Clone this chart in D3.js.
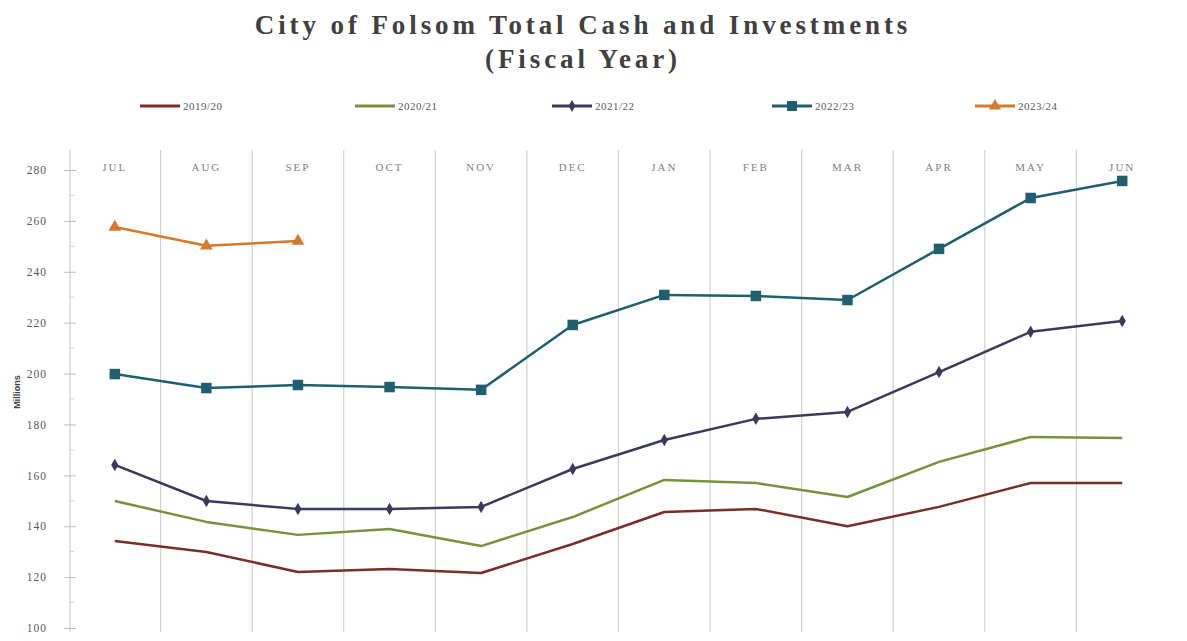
<!DOCTYPE html>
<html><head><meta charset="utf-8">
<script src="https://cdn.jsdelivr.net/npm/d3@7"></script>
<style>body{margin:0;background:#fff;} svg{display:block;}</style>
</head><body>
<script>
const months = ["JUL","AUG","SEP","OCT","NOV","DEC","JAN","FEB","MAR","APR","MAY","JUN"];
const seriesNames = ["2019/20","2020/21","2021/22","2022/23","2023/24"];
const fy2019 = [134.2,129.9,122.0,123.2,121.6,133.0,145.6,146.8,140.0,147.6,157.0,157.0];
const fy2020 = [149.9,141.7,136.6,138.9,132.2,143.6,158.2,157.0,151.5,165.3,175.1,174.7];
const fy2021 = [164.1,149.9,146.8,146.8,147.6,162.5,173.9,182.2,184.9,200.6,216.4,220.7];
const fy2022 = [199.8,194.3,195.5,194.7,193.6,219.1,230.9,230.5,228.9,249.0,269.0,275.7];
const fy2023 = [257.6,250.2,252.1];
const yTicks = [100,120,140,160,180,200,220,240,260,280];
const colors = ["#7a2e2a","#76923c","#3a3a5c","#1f5f6e","#d47a2c"];
const markers = ["none","none","diamond","square","triangle"];
const allSeries = [fy2019,fy2020,fy2021,fy2022,fy2023];

const W=1187,H=641;
const svg=d3.select("body").append("svg").attr("width",W).attr("height",H);
const x=d3.scaleBand().domain(months).range([69,1168]);
const y=d3.scaleLinear().domain([100,280]).range([628,170]);

// title
svg.append("text").attr("x",583).attr("y",34).attr("text-anchor","middle")
  .attr("font-family","Liberation Serif").attr("font-weight","bold").attr("font-size",27)
  .attr("letter-spacing",3.9).attr("fill","#404040").text("City of Folsom Total Cash and Investments");
svg.append("text").attr("x",583).attr("y",68).attr("text-anchor","middle")
  .attr("font-family","Liberation Serif").attr("font-weight","bold").attr("font-size",27)
  .attr("letter-spacing",3.9).attr("fill","#404040").text("(Fiscal Year)");

// gridlines between categories
months.slice(1).forEach(m=>{
  svg.append("line").attr("x1",x(m)).attr("x2",x(m)).attr("y1",150).attr("y2",632)
    .attr("stroke","#d0d0d0").attr("stroke-width",1.2);
});

// y axis
const yAxis=d3.axisLeft(y).tickValues(yTicks).tickSize(6).tickFormat(d3.format("d"));
const gy=svg.append("g").attr("transform","translate(70,0)").call(yAxis);
gy.select(".domain").attr("stroke","#bfbfbf").attr("d","M0,150V632");
gy.selectAll(".tick line").attr("stroke","#bfbfbf").attr("x2",-6).attr("x1",6);
gy.selectAll(".tick text").attr("font-family","Liberation Serif").attr("font-size",11.5)
  .attr("fill","#595959").attr("x",-23).attr("letter-spacing",1);
// minor ticks
d3.range(110,280,20).forEach(v=>{
  svg.append("line").attr("x1",70).attr("x2",74).attr("y1",y(v)).attr("y2",y(v)).attr("stroke","#cfcfcf");
});

// month labels top
svg.append("g").selectAll("text").data(months).join("text")
  .attr("x",d=>x(d)+x.bandwidth()/2).attr("y",171).attr("text-anchor","middle")
  .attr("font-family","Liberation Serif").attr("font-size",11).attr("letter-spacing",2)
  .attr("fill","#7f7f7f").text(d=>d);

// Millions label
svg.append("text").attr("transform","translate(20,392) rotate(-90)").attr("text-anchor","middle")
  .attr("font-family","Liberation Sans").attr("font-weight","bold").attr("font-size",9)
  .attr("fill","#404040").text("Millions");

const line=d3.line().x((d,i)=>x(months[i])+x.bandwidth()/2).y(d=>y(d));
const sym={diamond:d3.symbolDiamond,square:d3.symbolSquare,triangle:d3.symbolTriangle};
const symSize={diamond:45,square:110,triangle:70};

allSeries.forEach((s,k)=>{
  svg.append("path").datum(s).attr("d",line).attr("fill","none").attr("stroke",colors[k])
    .attr("stroke-width",2.5).attr("stroke-linejoin","round");
  if(markers[k]!=="none"){
    svg.append("g").selectAll("path").data(s).join("path")
      .attr("transform",(d,i)=>`translate(${x(months[i])+x.bandwidth()/2},${y(d)})`)
      .attr("d",d3.symbol().type(sym[markers[k]]).size(symSize[markers[k]]))
      .attr("fill",colors[k]);
  }
});

// legend
const legX=[140,355,552,772,975];
seriesNames.forEach((n,k)=>{
  const g=svg.append("g").attr("transform",`translate(${legX[k]},106)`);
  g.append("line").attr("x1",0).attr("x2",40).attr("y1",0).attr("y2",0).attr("stroke",colors[k]).attr("stroke-width",3);
  if(markers[k]!=="none") g.append("path").attr("transform","translate(20,0)")
    .attr("d",d3.symbol().type(sym[markers[k]]).size(symSize[markers[k]]*0.9)).attr("fill",colors[k]);
  g.append("text").attr("x",43).attr("y",4).attr("font-family","Liberation Serif").attr("font-size",11)
    .attr("fill","#595959").attr("letter-spacing",0.5).text(n);
});
</script>
</body></html>
